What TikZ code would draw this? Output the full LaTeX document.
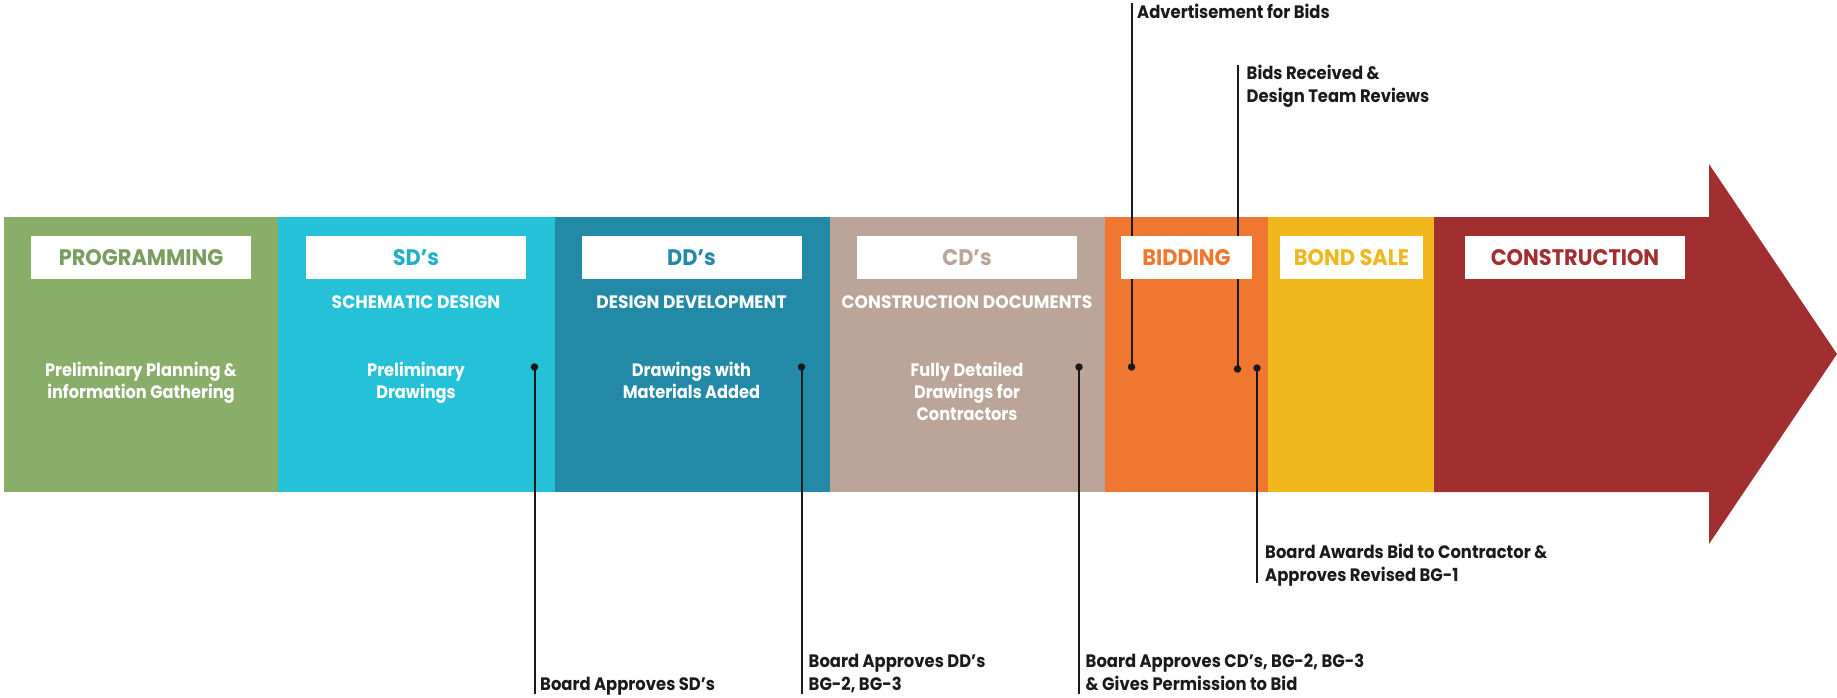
\documentclass[tikz,border=0pt]{standalone}
\usepackage{fontspec}
\setmainfont{Poppins}[FakeStretch=0.86]
\newfontfamily\ftitle{Poppins}[FakeStretch=0.93]
\newfontfamily\fsub{Poppins}[FakeStretch=0.95]
\newfontfamily\fdesc{Poppins}[FakeStretch=0.9]
\newfontfamily\flab{Poppins}[FakeStretch=0.91]
\definecolor{cprog}{HTML}{88AE69}
\definecolor{csd}{HTML}{24C1D8}
\definecolor{cdd}{HTML}{228AA6}
\definecolor{ccd}{HTML}{BBA598}
\definecolor{cbid}{HTML}{F0772F}
\definecolor{cbond}{HTML}{F0B81C}
\definecolor{ccon}{HTML}{A12F30}
\definecolor{cink}{HTML}{1A1A1A}
\begin{document}
\begin{tikzpicture}[x=1pt,y=-1pt,
  titlebox/.style={fill=white, minimum width=220, minimum height=43.5, inner sep=0,
    font=\ftitle\bfseries\fontsize{22.5}{22.5}\selectfont},
  subtitle/.style={text=white, inner sep=0, font=\fsub\bfseries\fontsize{18}{18}\selectfont},
  desc/.style={text=white, align=center, inner sep=0, font=\fdesc\bfseries\fontsize{18}{22}\selectfont},
  lbl/.style={align=left, text=cink, inner sep=0, font=\flab\bfseries\fontsize{18}{22.5}\selectfont},
  conn/.style={line width=2pt, draw=cink},
  dotmark/.style={circle, fill=cink, inner sep=0, minimum size=7.5}]
\useasboundingbox (0,0) rectangle (1837,698);
% bands
\fill[cprog] (3.5,217) rectangle (278,492);
\fill[csd] (278,217) rectangle (555,492);
\fill[cdd] (555,217) rectangle (830,492);
\fill[ccd] (830,217) rectangle (1105,492);
\fill[cbid] (1105,217) rectangle (1268,492);
\fill[cbond] (1268,217) rectangle (1434,492);
\fill[ccon] (1434,217) -- (1709,217) -- (1709,164) -- (1837,354) -- (1709,544) -- (1709,492) -- (1434,492) -- cycle;
% dots
\node[dotmark] (dsd) at (534.5,367) {};
\node[dotmark] (ddd) at (801.5,367) {};
\node[dotmark] (dcd) at (1079,367) {};
\node[dotmark] (dadv) at (1131.5,367) {};
\node[dotmark] (dbids) at (1237.5,369) {};
\node[dotmark] (daw) at (1257,368) {};
% labels
\node[lbl, anchor=west] (lsd) at (540,686) {Board Approves SD’s};
\node[lbl, anchor=north west] (ldd) at (808.5,654) {Board Approves DD’s\\BG-2, BG-3};
\node[lbl, anchor=north west] (lcd) at (1085.5,654) {Board Approves CD’s, BG-2, BG-3\\\& Gives Permission to Bid};
\node[lbl, anchor=west] (ladv) at (1137,11) {Advertisement for Bids};
\node[lbl, anchor=north west] (lbids) at (1246.5,65) {Bids Received \&\\Design Team Reviews};
\node[lbl, anchor=north west] (law) at (1265,544) {Board Awards Bid to Contractor \&\\Approves Revised BG-1};
% connectors
\coordinate (esd) at (534.5,694);
\coordinate (edd) at (801.5,694);
\coordinate (ecd) at (1079,694);
\coordinate (eadv) at (1131.5,3);
\coordinate (ebids) at (1237.5,65);
\coordinate (eaw) at (1257,583);
\draw[conn] (dsd.center) -- (esd);
\draw[conn] (ddd.center) -- (edd);
\draw[conn] (dcd.center) -- (ecd);
\draw[conn] (dadv.center) -- (eadv);
\draw[conn] (dbids.center) -- (ebids);
\draw[conn] (daw.center) -- (eaw);
% title boxes
\node[titlebox, text=cprog!90!black] (tprog) at (141,257.5) {PROGRAMMING};
\node[titlebox, text=csd!92!black] (tsd) at (416,257.5) {SD’s};
\node[titlebox, text=cdd] (tdd) at (691.5,257.5) {DD’s};
\node[titlebox, text=ccd] (tcd) at (967,257.5) {CD’s};
\node[titlebox, minimum width=131, text=cbid] (tbid) at (1186.5,257.5) {BIDDING};
\node[titlebox, minimum width=143, text=cbond] (tbond) at (1351.5,257.5) {BOND SALE};
\node[titlebox, minimum width=220, text=ccon] (tcon) at (1575,257.5) {CONSTRUCTION};
% subtitles
\node[subtitle] (ssd) at (416,302) {SCHEMATIC DESIGN};
\node[subtitle] (sdd) at (691.5,302) {DESIGN DEVELOPMENT};
\node[subtitle] (scd) at (967,302) {CONSTRUCTION DOCUMENTS};
% descriptions
\node[desc, anchor=north] (xprog) at (141,362) {Preliminary Planning \&\\information Gathering};
\node[desc, anchor=north] (xsd) at (416,362) {Preliminary\\Drawings};
\node[desc, anchor=north] (xdd) at (691.5,362) {Drawings with\\Materials Added};
\node[desc, anchor=north] (xcd) at (967,362) {Fully Detailed\\Drawings for\\Contractors};
\end{tikzpicture}
\end{document}
